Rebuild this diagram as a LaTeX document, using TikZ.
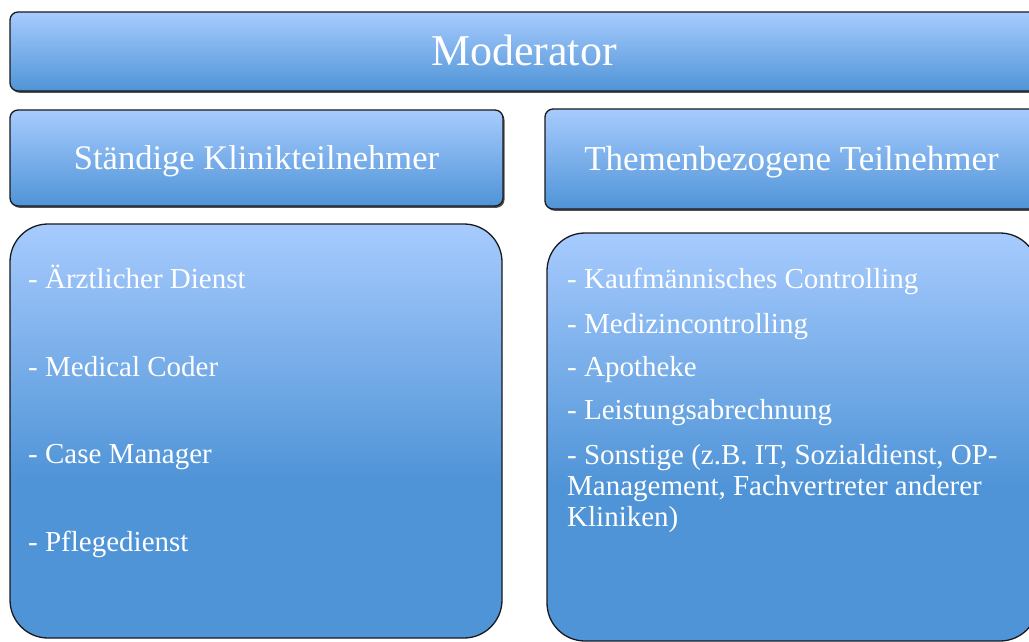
\documentclass[tikz,border=0pt]{standalone}
\usepackage{fontspec}
\setmainfont{Liberation Serif}
\usetikzlibrary{positioning,shadows}

\definecolor{boxtop}{RGB}{167,203,254}
\definecolor{boxbot}{RGB}{79,148,215}
\definecolor{boxline}{RGB}{25,25,30}
\pgfdeclareverticalshading{listshade}{100bp}{color(0bp)=(boxbot); color(44bp)=(boxbot); color(75bp)=(boxtop); color(100bp)=(boxtop)}

\tikzset{
  headbox/.style={draw=boxline, line width=1.3pt, rounded corners=8pt,
    top color=boxtop, bottom color=boxbot, text=white, text depth=0pt,
    drop shadow={shadow xshift=1.5pt, shadow yshift=-1.8pt, fill=black!75, opacity=.9}},
  listbox/.style={draw=boxline, line width=1.3pt, rounded corners=38pt, shading=listshade},
  item/.style={anchor=base west, text=white, inner sep=0pt,
    font=\fontsize{29}{31}\selectfont}
}

\begin{document}
\begin{tikzpicture}[x=1pt,y=-1pt]
  \useasboundingbox (0,0) rectangle (1029,642);
  % header row
  \node[headbox, minimum width=1028pt, minimum height=79pt, text height=29pt,
    font=\fontsize{44}{48}\selectfont] (moderator) at (524,51.5) {Moderator};
  \node[headbox, minimum width=493pt, minimum height=96pt, text height=23pt,
    font=\fontsize{34.5}{38}\selectfont] (staendig) at (256.5,158) {Ständige Klinikteilnehmer};
  \node[headbox, minimum width=493pt, minimum height=100pt, text height=23pt,
    font=\fontsize{35}{38}\selectfont] (thema) at (791.5,159) {Themenbezogene Teilnehmer};
  % lists
  \node[listbox, minimum width=492pt, minimum height=414pt] (klinik) at (256,431) {};
  \node[listbox, minimum width=491pt, minimum height=408pt] (themen) at (792.5,437) {};
  \foreach \txt/\y [count=\i] in {Ärztlicher Dienst/288, Medical Coder/376,
      Case Manager/463, Pflegedienst/551}
    \node[item] (k\i) at (28,\y) {- \txt};
  \foreach \txt/\y [count=\i] in {Kaufmännisches Controlling/288,
      Medizincontrolling/333, Apotheke/376, Leistungsabrechnung/419}
    \node[item] (t\i) at (567,\y) {- \txt};
  \node[item] (t5) at (567,464)
    {\vtop{\hbox{- Sonstige (z.B. IT, Sozialdienst, OP-}\hbox{Management, Fachvertreter anderer}\hbox{Kliniken)}}};
\end{tikzpicture}
\end{document}
